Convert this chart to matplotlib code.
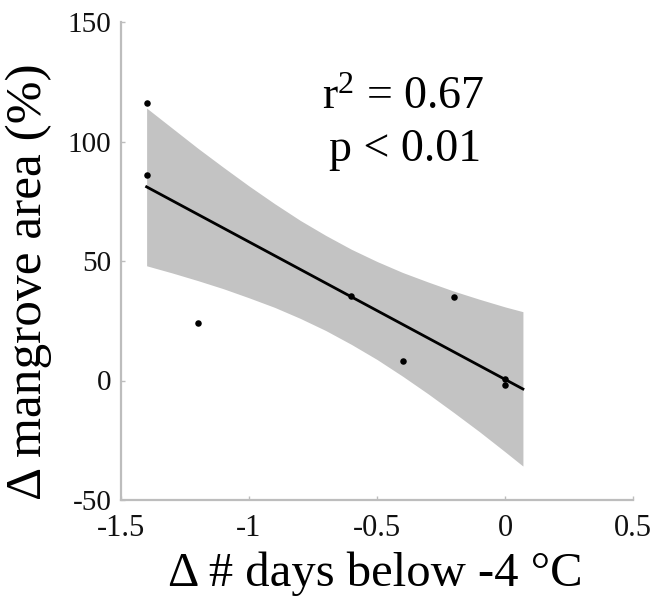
import numpy as np
import matplotlib
matplotlib.use("Agg")
import matplotlib.pyplot as plt

# ---- data ----
x_days = [-1.4, -1.4, -1.2, -0.6, -0.4, -0.2, 0.0, 0.0]
y_area = [116, 86, 24, 35.5, 8, 35, 0.5, -2]

# confidence band edges
band_x = [-1.4, -1.3, -1.2, -1.1, -1.0, -0.9, -0.8, -0.7, -0.6,
          -0.5, -0.4, -0.3, -0.2, -0.1, 0.0, 0.07]
band_upper = [114, 105.6, 97.2, 89.2, 81.4, 74.0, 67.0, 60.7, 54.9,
              49.8, 45.2, 41.2, 37.4, 34.0, 30.8, 28.8]
band_lower = [48, 45.0, 41.8, 38.4, 34.6, 30.6, 26.0, 20.9, 15.1,
              8.8, 1.8, -5.6, -13.4, -21.4, -29.8, -35.8]

fit_range = [-1.4, 0.07]

xticks = [-1.5, -1, -0.5, 0, 0.5]
xticklabels = ["-1.5", "-1", "-0.5", "0", "0.5"]
yticks = [-50, 0, 50, 100, 150]
yticklabels = ["-50", "0", "50", "100", "150"]

stat_lines = [r"r$^2$ = 0.67", "p < 0.01"]

# ---- style ----
plt.rcParams["font.family"] = ["Liberation Serif", "DejaVu Serif"]
plt.rcParams["mathtext.fontset"] = "custom"
plt.rcParams["mathtext.rm"] = "Liberation Serif"
plt.rcParams["mathtext.it"] = "Liberation Serif:italic"
plt.rcParams["axes.unicode_minus"] = False

fig = plt.figure(figsize=(6.54, 6.15), dpi=100)
ax = fig.add_axes([121 / 654, 1 - 500 / 615, 512 / 654, 478 / 615])

ax.fill_between(band_x, band_lower, band_upper, color="#c3c3c3", linewidth=0, zorder=1)

coef = np.polyfit(x_days, y_area, 1)
fx = np.array(fit_range)
ax.plot(fx, np.polyval(coef, fx), color="black", linewidth=2.0, zorder=3)

ax.scatter(x_days, y_area, s=22, color="black", zorder=4, linewidths=0)

ax.set_xlim(-1.5, 0.5)
ax.set_ylim(-50, 150)
ax.set_xticks(xticks)
ax.set_xticklabels(xticklabels)
ax.set_yticks(yticks)
ax.set_yticklabels(yticklabels)

for side in ["top", "right"]:
    ax.spines[side].set_visible(False)
for side in ["left", "bottom"]:
    ax.spines[side].set_color("#bdbdbd")
    ax.spines[side].set_linewidth(1.6)

ax.tick_params(direction="in", length=3, width=1, color="#bdbdbd",
               labelcolor="#111111")
ax.tick_params(axis="x", labelsize=22, pad=10)
ax.tick_params(axis="y", labelsize=21, pad=7)

ax.set_xlabel("\u0394 # days below -4 \u00b0C", fontsize=35)
ax.set_ylabel("\u0394 mangrove area (%)", fontsize=37)
ax.xaxis.set_label_coords(0.496, -0.108)
ax.yaxis.set_label_coords(-0.135, 0.456)

ax.text(-0.398, 113.6, stat_lines[0], fontsize=33, ha="center", va="baseline")
ax.text(-0.39, 92, stat_lines[1], fontsize=33, ha="center", va="baseline")

fig.savefig("out.png", dpi=100)
